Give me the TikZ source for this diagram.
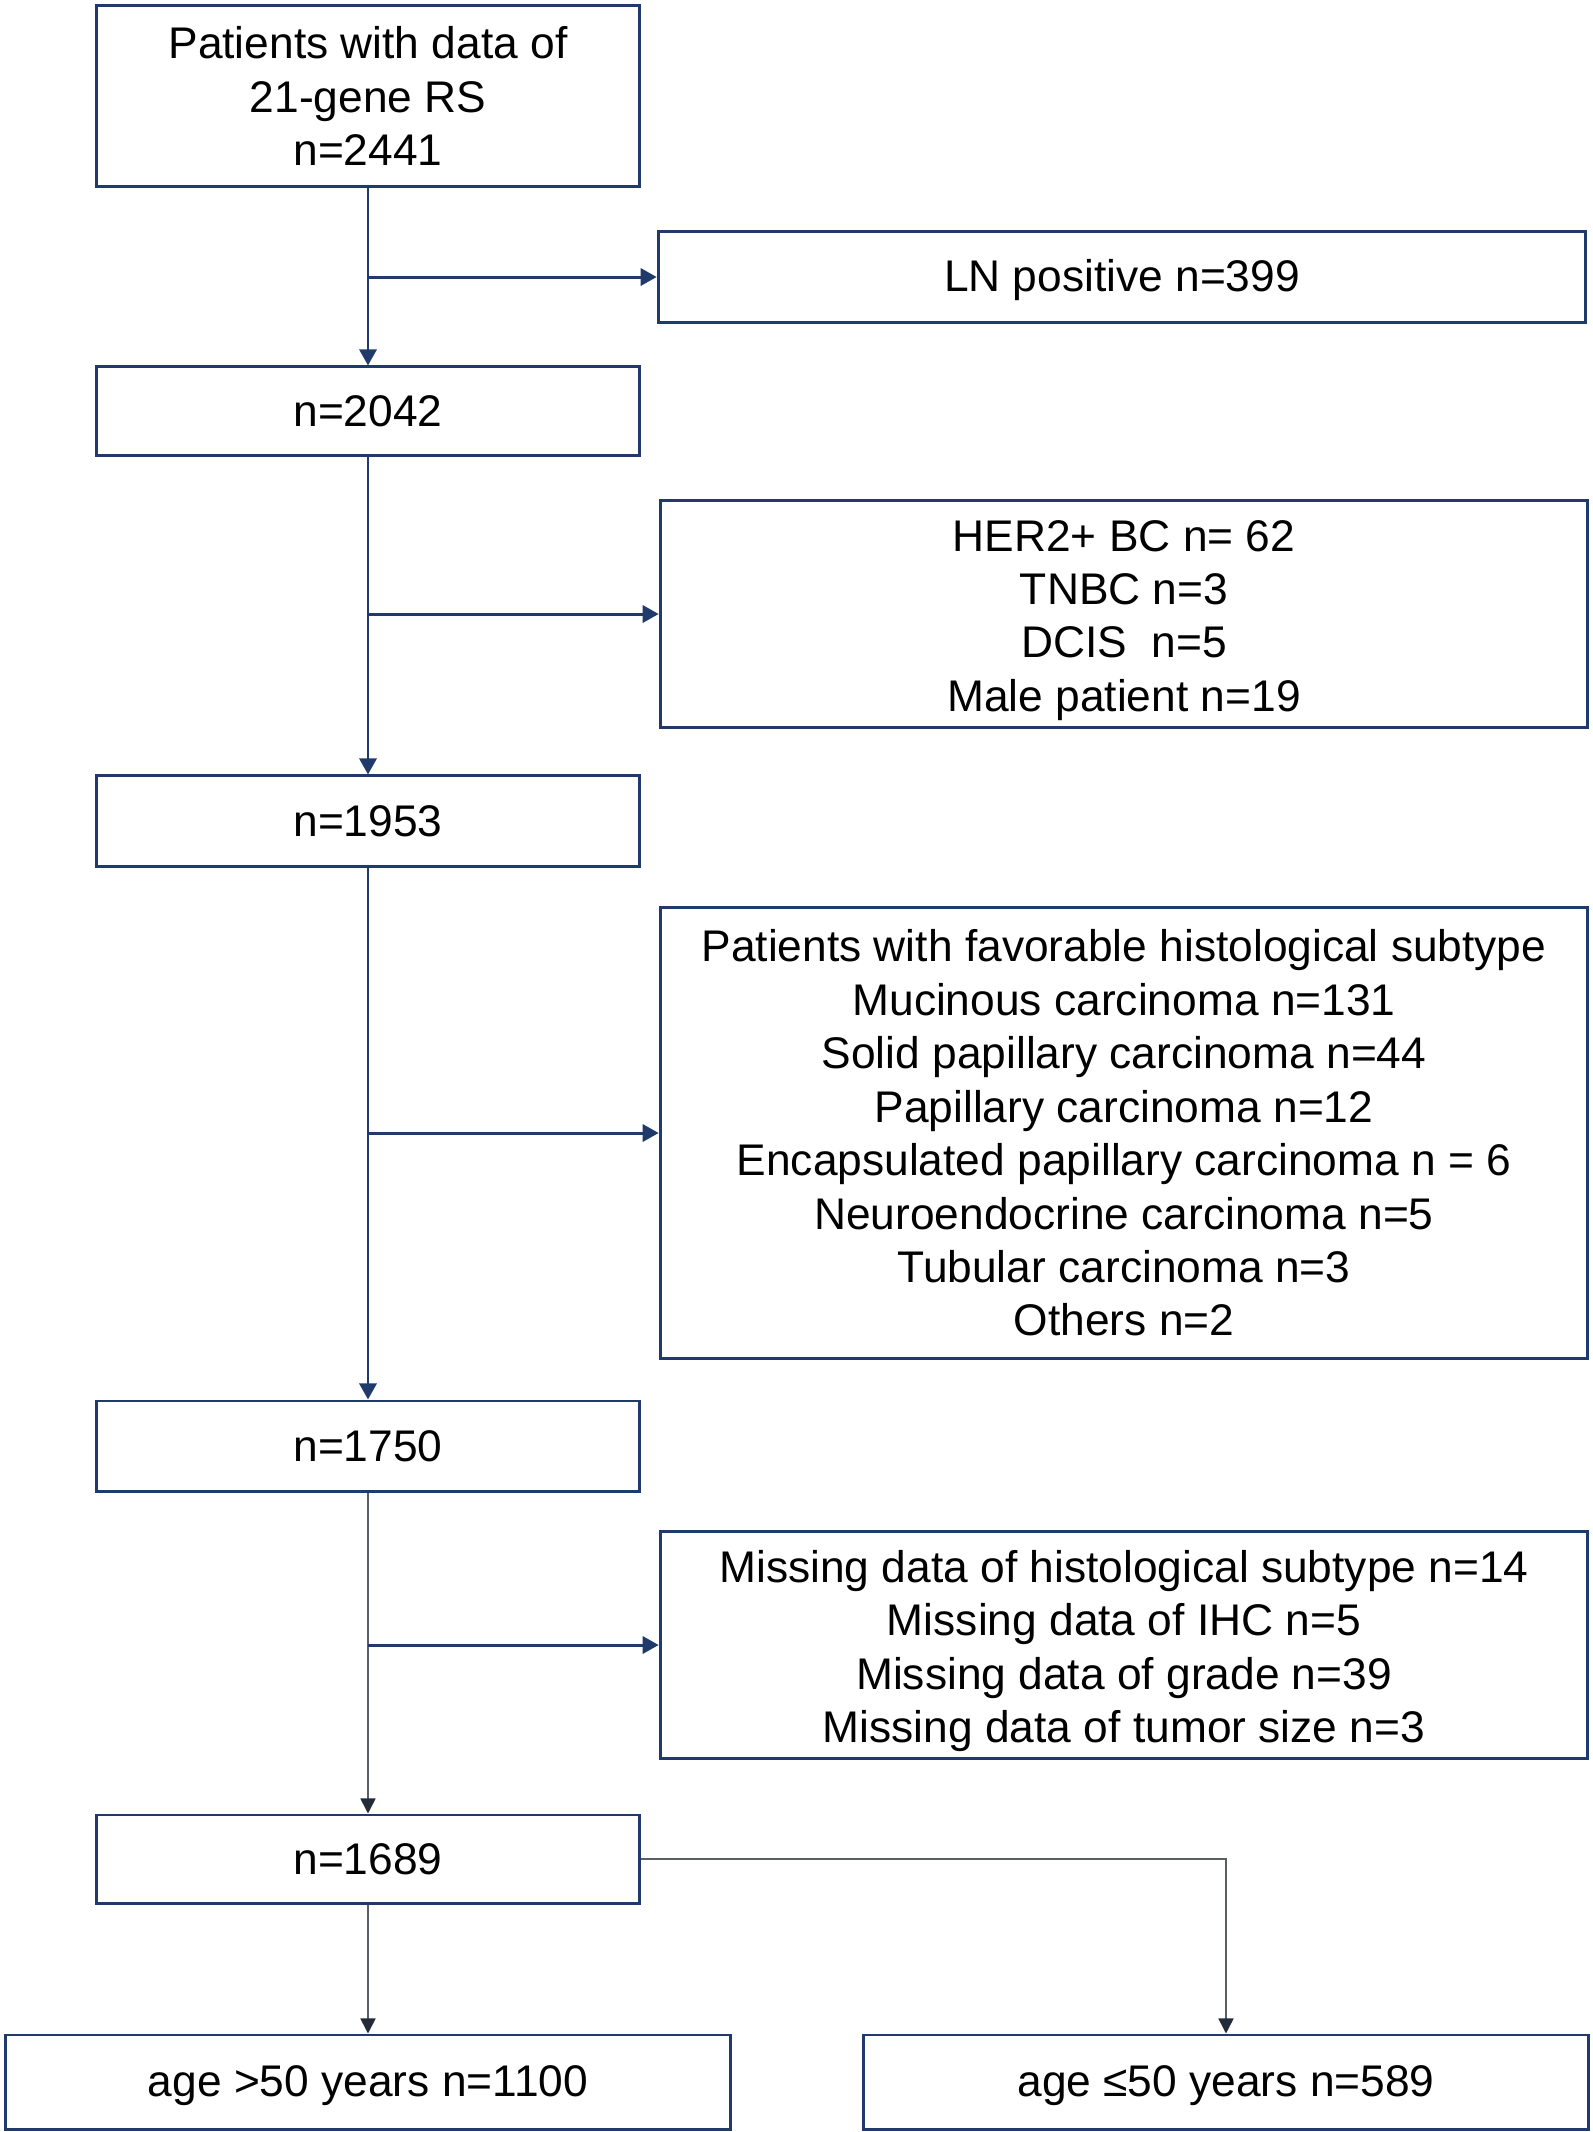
\documentclass[tikz,border=0pt]{standalone}
\usepackage{fontspec}
\setmainfont{Liberation Sans}
\usepackage{tikz}
\usetikzlibrary{arrows.meta}
\definecolor{navy}{HTML}{1F3A6B}
\definecolor{thingray}{HTML}{5A5F66}
\definecolor{tipdark}{HTML}{232B38}
\newcommand{\lowtext}[2]{\raisebox{-#1}[\height][\depth]{\begin{tabular}{@{}c@{}}#2\end{tabular}}}
\tikzset{
  box/.style={draw=navy, line width=0.85pt, inner sep=0pt, align=center,
    text=black, font=\fontsize{12.6}{15.2}\selectfont},
  mainbox/.style={box, minimum width=5.42cm},
  sidebox/.style={box, minimum width=9.27cm},
  endbox/.style={box, minimum width=7.24cm, minimum height=0.94cm},
  flow/.style={draw=navy, line width=0.85pt, -{Triangle[length=0.16cm,width=0.17cm]}},
  thinflow/.style={draw=thingray, line width=0.45pt, -{Triangle[length=0.15cm,width=0.15cm,color=tipdark]}}
}
\begin{document}
\begin{tikzpicture}[x=0.01cm,y=-0.01cm]
\useasboundingbox (0,0) rectangle (1593,2132);
% main column
\node[mainbox, minimum height=1.81cm] (start) at (368,96) {Patients with data of\\21-gene RS\\n=2441};
\node[mainbox, minimum height=0.88cm] (n2042) at (368,411) {n=2042};
\node[mainbox, minimum height=0.90cm] (n1953) at (368,821) {n=1953};
\node[mainbox, minimum height=0.90cm] (n1750) at (368,1446) {n=1750};
\node[mainbox, minimum height=0.88cm] (n1689) at (368,1859) {n=1689};
% excluded
\node[sidebox, minimum height=0.91cm] (exLN) at (1122,277) {\lowtext{0.04cm}{LN positive n=399}};
\node[sidebox, minimum height=2.26cm] (exHER) at (1124,614) {\lowtext{0.065cm}{HER2+ BC n= 62\\TNBC n=3\\DCIS\ \ n=5\\Male patient n=19}};
\node[sidebox, minimum height=4.50cm] (exHist) at (1124,1133) {Patients with favorable histological subtype\\Mucinous carcinoma n=131\\Solid papillary carcinoma n=44\\Papillary carcinoma n=12\\Encapsulated papillary carcinoma n = 6\\Neuroendocrine carcinoma n=5\\Tubular carcinoma n=3\\Others n=2};
\node[sidebox, minimum height=2.27cm] (exMiss) at (1124,1645) {\lowtext{0.07cm}{Missing data of histological subtype n=14\\Missing data of IHC n=5\\Missing data of grade n=39\\Missing data of tumor size n=3}};
% age groups
\node[endbox] (older) at (368,2082) {\lowtext{0.04cm}{age \textgreater50 years n=1100}};
\node[endbox] (younger) at (1226,2082) {\lowtext{0.04cm}{age ≤50 years n=589}};
% connectors
\draw[flow] (start) -- (n2042);
\draw[flow] (n2042) -- (n1953);
\draw[flow] (n1953) -- (n1750);
\draw[thinflow] (n1750) -- (n1689);
\draw[flow] (start.south |- exLN.west) -- (exLN.west);
\draw[flow] (start.south |- exHER.west) -- (exHER.west);
\draw[flow] (start.south |- exHist.west) -- (exHist.west);
\draw[flow] (start.south |- exMiss.west) -- (exMiss.west);
\draw[thinflow] (n1689) -- (older);
\draw[thinflow] (n1689.east) -| (younger.north);
\end{tikzpicture}
\end{document}
